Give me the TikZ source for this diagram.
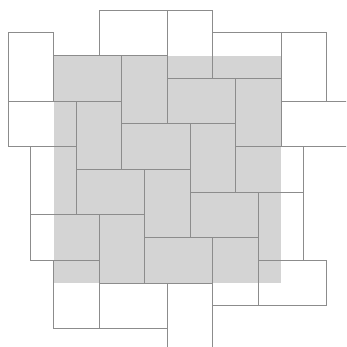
\documentclass[tikz,border=0pt]{standalone}
\usepackage{xcolor}
\usepackage{tikz}
\tikzset{
  court/.style ={fill=black!17},
  hslab/.style ={draw=black!45, line width=1.1pt},
  vslab/.style ={draw=black!45, line width=1.1pt},
}
\begin{document}
\begin{tikzpicture}[x=1cm, y=-1cm]
  \useasboundingbox (-0.352,-0.44) rectangle (14.857,14.81);
  \clip (-0.352,-0.44) rectangle (14.857,14.81);
  \fill[court] (2,2) rectangle (12,12);

  % lying slabs, 3 by 2
  \foreach \x/\y in {4/0, 9/1, 2/2, 7/3, 0/4, 12/4, 5/5, 10/6, 3/7, 8/8, 1/9, 6/10, 11/11, 4/12}
    \draw[hslab] (\x,\y) rectangle ++(3,2);
  % standing slabs, 2 by 3
  \foreach \x/\y in {7/0, 0/1, 12/1, 5/2, 10/3, 3/4, 8/5, 1/6, 6/7, 11/8, 4/9, 9/10, 2/11, 7/12}
    \draw[vslab] (\x,\y) rectangle ++(2,3);
\end{tikzpicture}
\end{document}
